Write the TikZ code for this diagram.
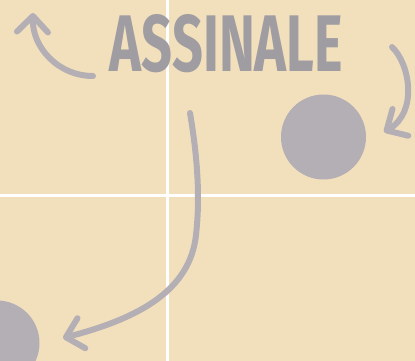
\documentclass[tikz,border=0pt]{standalone}
\usepackage{fontspec}
\usepackage{graphicx}
\usetikzlibrary{arrows.meta}
\newfontfamily\titlefont{Fira Sans}
\definecolor{sand}{HTML}{F2E0BD}
\definecolor{pebble}{HTML}{B4AFB5}
\definecolor{inkgrey}{HTML}{9F9DA2}

\begin{document}
\begin{tikzpicture}[x=1pt,y=-1pt,
  guide/.style={white,line width=2.5pt},
  swoop/.style={pebble,line width=6pt,line cap=round,
    -{Straight Barb[length=16pt,width=31pt,round]}},
  dot/.style={circle,fill=pebble,minimum size=85pt,inner sep=0pt}]
\fill[sand] (0,0) rectangle (415,361);
\useasboundingbox (0,0) rectangle (415,361);
\clip (0,0) rectangle (415,361);
% grid lines
\draw[guide] (167.5,0) -- (167.5,361);
\draw[guide] (0,195.5) -- (415,195.5);
% balls
\node[dot] (ballright) at (323.5,137) {};
\node[dot] (ballleft) at (-3,343) {};
\node[inkgrey,inner sep=0pt] (title) at (226.5,43.5)
  {\resizebox{233pt}{57pt}{\titlefont\bfseries ASSINALE}};
% arrow ends
\coordinate (upstart) at (93,76);
\coordinate (upend) at (33,13);
\coordinate (sidestart) at (392,47);
\coordinate (sideend) at (384,132);
\coordinate (downstart) at (190,113);
\coordinate (downbend) at (196,235);
\coordinate (downend) at (63,338);
\draw[swoop] (upstart) .. controls (58,76) and (32,47) .. (upend);
\draw[swoop] (sidestart) .. controls (410,64) and (418,112) .. (sideend);
\draw[swoop] (downstart) .. controls (198,160) and (200,200) .. (downbend)
  .. controls (190,290) and (140,318) .. (downend);
\end{tikzpicture}
\end{document}
